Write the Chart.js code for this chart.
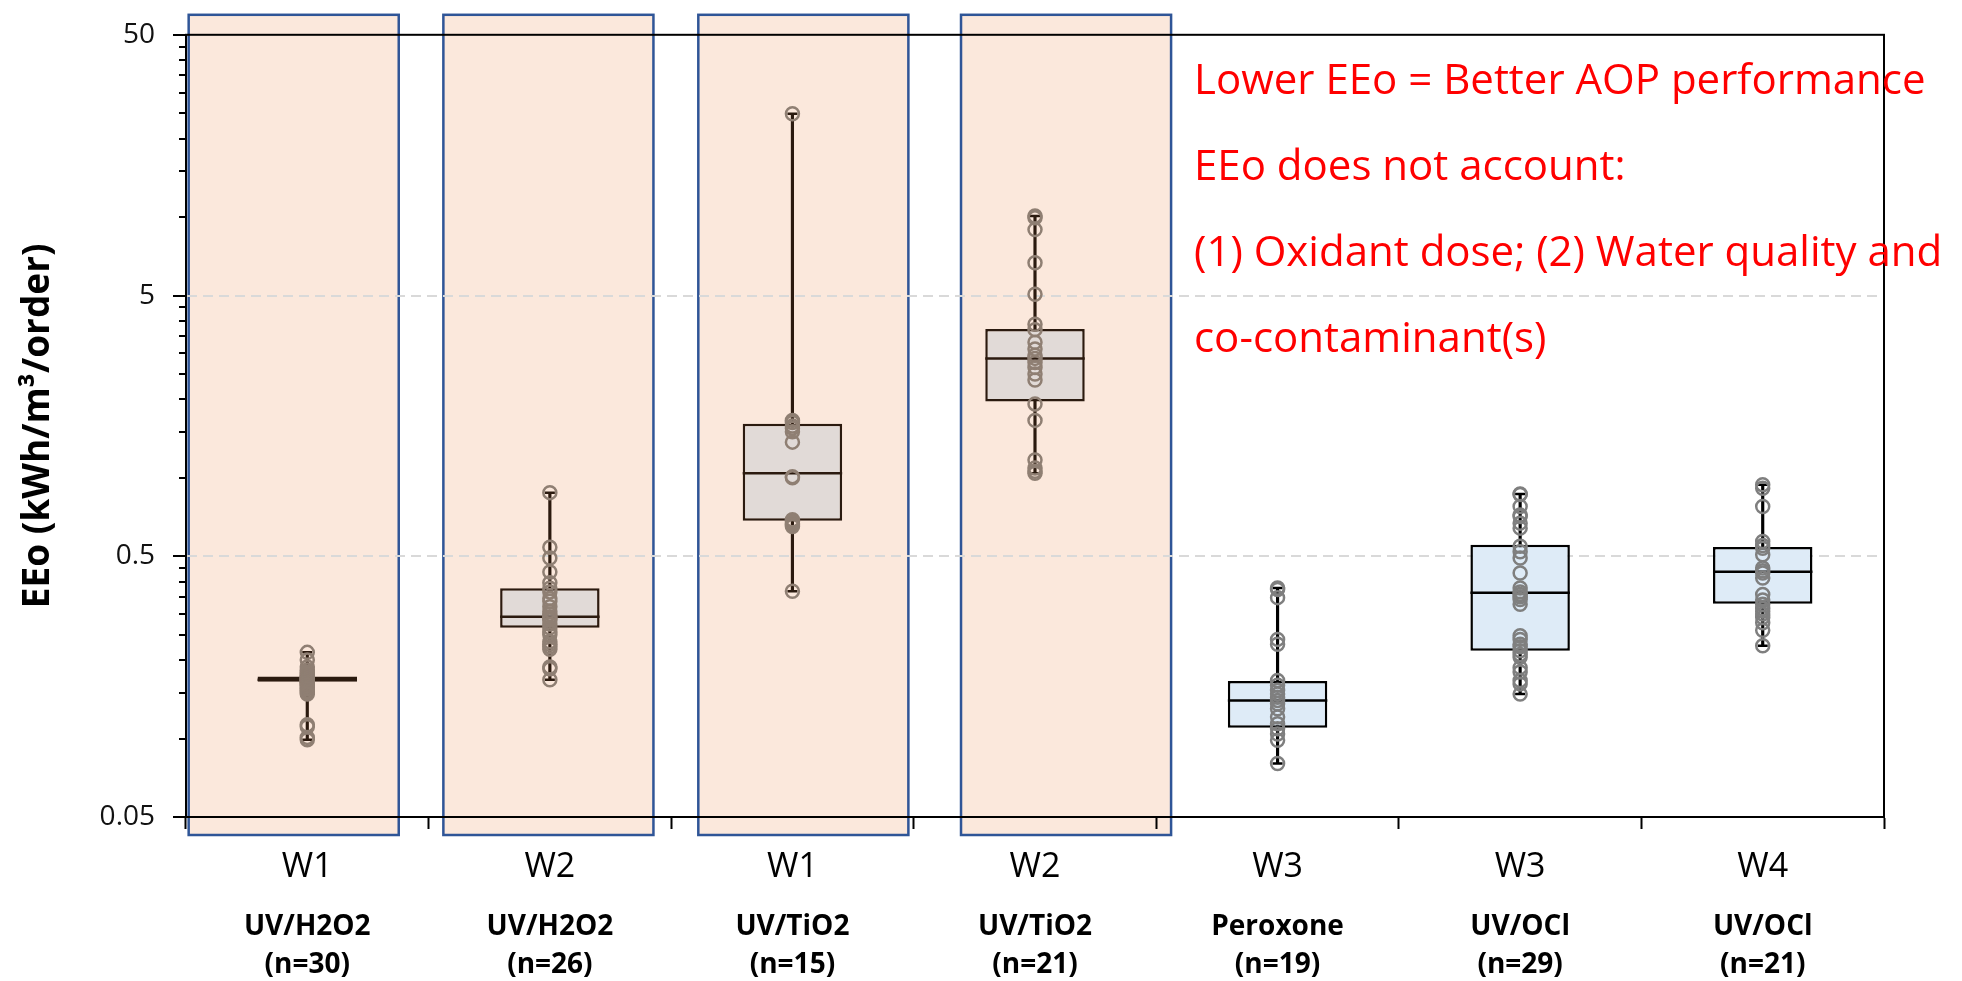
<!DOCTYPE html>
<html>
<head>
<meta charset="utf-8">
<title>EEo by AOP process</title>
<script src="https://cdn.jsdelivr.net/npm/chart.js@4.4.1/dist/chart.umd.min.js"></script>
<style>
  html, body { margin: 0; padding: 0; background: #fff; }
  #wrap { width: 1962px; height: 981px; position: relative; }
</style>
</head>
<body>
<div id="wrap"><canvas id="chart"></canvas></div>
<script>
// categories
const waterLabels = ['W1', 'W2', 'W1', 'W2', 'W3', 'W3', 'W4'];
const processLabels = ['UV/H2O2', 'UV/H2O2', 'UV/TiO2', 'UV/TiO2', 'Peroxone', 'UV/OCl', 'UV/OCl'];
const countLabels = ['(n=30)', '(n=26)', '(n=15)', '(n=21)', '(n=19)', '(n=29)', '(n=21)'];
const shaded = [true, true, true, true, false, false, false];

// box statistics (kWh/m3/order)
const boxMin = [0.099, 0.168, 0.367, 1.04, 0.0802, 0.148, 0.227];
const boxQ1 = [0.165, 0.266, 0.684, 1.96, 0.110, 0.217, 0.329];
const boxMedian = [0.168, 0.293, 1.04, 2.87, 0.140, 0.362, 0.436];
const boxQ3 = [0.173, 0.377, 1.61, 3.72, 0.166, 0.554, 0.543];
const boxMax = [0.214, 0.877, 24.9, 10.1, 0.378, 0.867, 0.94];

// individual observations
const ptsW1H2O2 = [0.214, 0.2, 0.188, 0.183, 0.179, 0.176, 0.174, 0.172, 0.171, 0.17, 0.169, 0.168, 0.168, 0.167, 0.166,
  0.165, 0.164, 0.163, 0.161, 0.16, 0.158, 0.156, 0.155, 0.152, 0.15, 0.148, 0.113, 0.111, 0.101, 0.099];
const ptsW2H2O2 = [0.877, 0.541, 0.492, 0.435, 0.396, 0.377, 0.365, 0.345, 0.336, 0.32, 0.308, 0.3, 0.293, 0.29,
  0.285, 0.275, 0.266, 0.257, 0.25, 0.235, 0.23, 0.225, 0.22, 0.188, 0.185, 0.168];
const ptsW1TiO2 = [24.9, 1.66, 1.63, 1.58, 1.55, 1.5, 1.37, 1.01, 1.0, 0.69, 0.68, 0.67, 0.66, 0.65, 0.367];
const ptsW2TiO2 = [10.1, 9.93, 8.95, 6.68, 5.06, 3.88, 3.7, 3.31, 3.12, 2.95, 2.87, 2.77, 2.65, 2.5, 2.37, 1.92,
  1.66, 1.17, 1.09, 1.06, 1.04];
const ptsW3Peroxone = [0.378, 0.373, 0.347, 0.24, 0.23, 0.167, 0.16, 0.153, 0.148, 0.144, 0.14, 0.136, 0.13,
  0.121, 0.114, 0.109, 0.104, 0.0984, 0.0802];
const ptsW3OCl = [0.867, 0.863, 0.776, 0.72, 0.711, 0.67, 0.641, 0.546, 0.52, 0.492, 0.431, 0.378, 0.365, 0.357,
  0.35, 0.341, 0.327, 0.248, 0.24, 0.23, 0.225, 0.217, 0.21, 0.205, 0.187, 0.18, 0.167, 0.162, 0.148];
const ptsW4OCl = [0.94, 0.912, 0.776, 0.57, 0.55, 0.537, 0.507, 0.451, 0.44, 0.431, 0.413, 0.357, 0.34, 0.327,
  0.315, 0.308, 0.3, 0.291, 0.278, 0.26, 0.227];
const groupPoints = [ptsW1H2O2, ptsW2H2O2, ptsW1TiO2, ptsW2TiO2, ptsW3Peroxone, ptsW3OCl, ptsW4OCl];

// y axis ticks: Excel style log axis, minor ticks at multiples of each decade start
const yDecades = [0.05, 0.5, 5];
const yMinorSteps = [1, 2, 3, 4, 5, 6, 7, 8, 9, 10];
const yLabelValues = [0.05, 0.5, 5, 50];
const yGridValues = [0.5, 5];

const notes = [
  'Lower EEo = Better AOP performance',
  'EEo does not account:',
  '(1) Oxidant dose; (2) Water quality and',
  'co-contaminant(s)',
];

const yTickValues = [...new Set(yDecades.flatMap((d) => yMinorSteps.map((k) => Number((d * k).toPrecision(4)))))];

const FONT = 'Open Sans';
const BOX_FRACTION = 0.41;
const boxFill = shaded.map((s) => (s ? '#e1dad7' : '#deebf7'));
const boxEdge = shaded.map((s) => (s ? '#2b1a0f' : '#000000'));
const dotColor = shaded.map((s) => (s ? '#8f7f73' : '#7f7f7f'));

const halfBox = (ctx) => ctx.chart.scales.x.width / waterLabels.length * BOX_FRACTION / 2;

// peach panels behind the first four groups
const shadingPlugin = {
  id: 'shading',
  beforeDraw(chart, args, opts) {
    const { ctx, chartArea, scales: { x } } = chart;
    const w = x.width / waterLabels.length;
    ctx.save();
    shaded.forEach((on, i) => {
      if (!on) return;
      const cx = x.getPixelForValue(i) + opts.shift[i] * w;
      const left = cx - (w * opts.width) / 2;
      const top = chartArea.top - opts.above;
      const h = chartArea.bottom + opts.below - top;
      ctx.fillStyle = opts.fill;
      ctx.fillRect(left, top, w * opts.width, h);
      ctx.lineWidth = 2.5;
      ctx.strokeStyle = opts.edge;
      ctx.strokeRect(left, top, w * opts.width, h);
    });
    ctx.restore();
  },
};

// black frame around the plot area
const framePlugin = {
  id: 'frame',
  beforeDatasetsDraw(chart) {
    const { ctx, chartArea: a } = chart;
    ctx.save();
    ctx.strokeStyle = '#000';
    ctx.lineWidth = 2;
    ctx.strokeRect(a.left, a.top, a.right - a.left, a.bottom - a.top);
    ctx.restore();
  },
};

// red annotation text
const notesPlugin = {
  id: 'notes',
  afterDraw(chart, args, opts) {
    const { ctx, chartArea } = chart;
    ctx.save();
    ctx.fillStyle = opts.color;
    ctx.font = `${opts.size}px "${FONT}"`;
    ctx.textBaseline = 'alphabetic';
    notes.forEach((line, i) => {
      ctx.fillText(line, chartArea.left + opts.dx, chartArea.top + opts.dy + i * opts.step);
    });
    ctx.restore();
  },
};

const datasets = [
  {
    type: 'bar',
    label: 'whisker',
    data: boxMin.map((v, i) => [v, boxMax[i]]),
    backgroundColor: boxEdge,
    borderWidth: 0,
    barThickness: 2.5,
    grouped: false,
    order: 5,
  },
  {
    type: 'bar',
    label: 'box',
    data: boxQ1.map((v, i) => [v, boxQ3[i]]),
    backgroundColor: boxFill,
    borderColor: boxEdge,
    borderWidth: 2.5,
    borderSkipped: false,
    barPercentage: BOX_FRACTION,
    categoryPercentage: 1,
    grouped: false,
    order: 4,
  },
  {
    type: 'scatter',
    label: 'median',
    xAxisID: 'xp',
    data: boxMedian.map((v, i) => ({ x: i, y: v })),
    pointStyle: 'line',
    radius: halfBox,
    borderWidth: 2.5,
    borderColor: boxEdge,
    order: 3,
  },
  {
    type: 'scatter',
    label: 'caps',
    xAxisID: 'xp',
    data: [...boxMin.map((v, i) => ({ x: i, y: v })), ...boxMax.map((v, i) => ({ x: i, y: v }))],
    pointStyle: 'line',
    radius: 5,
    borderWidth: 2.5,
    borderColor: (ctx) => boxEdge[ctx.raw ? ctx.raw.x : 0],
    order: 2,
  },
  ...groupPoints.map((pts, i) => ({
    type: 'scatter',
    label: `${waterLabels[i]} ${processLabels[i]}`,
    xAxisID: 'xp',
    data: pts.map((v) => ({ x: i, y: v })),
    pointStyle: 'circle',
    radius: 6.5,
    borderWidth: 2.5,
    borderColor: dotColor[i],
    backgroundColor: 'rgba(0,0,0,0)',
    order: 1,
  })),
];

new Chart(document.getElementById('chart'), {
  type: 'bar',
  data: { labels: waterLabels, datasets },
  plugins: [shadingPlugin, framePlugin, notesPlugin],
  options: {
    responsive: true,
    maintainAspectRatio: false,
    animation: false,
    layout: { padding: { left: 0, right: 78, top: 31, bottom: 0 } },
    font: { family: FONT },
    plugins: {
      legend: { display: false },
      tooltip: { enabled: false },
      shading: {
        fill: '#fbe8dc',
        edge: '#2f5597',
        width: 0.866,
        shift: [-0.056, -0.006, 0.045, 0.128, 0, 0, 0],
        above: 20,
        below: 18,
      },
      notes: { color: '#ff0000', size: 42, dx: 1008, dy: 59, step: 86 },
    },
    scales: {
      x: {
        type: 'category',
        position: 'bottom',
        offset: true,
        afterFit: (s) => { s.height = 70; },
        grid: {
          offset: true,
          drawOnChartArea: false,
          drawTicks: true,
          tickLength: 12,
          tickColor: '#000',
          tickWidth: 2,
        },
        border: { color: '#000', width: 2 },
        ticks: { font: { family: FONT, size: 34 }, color: '#000', padding: 18, autoSkip: false, maxRotation: 0 },
      },
      x2: {
        type: 'category',
        position: 'bottom',
        offset: true,
        labels: processLabels.map((p, i) => [p, countLabels[i]]),
        afterFit: (s) => { s.height = 94; },
        grid: { display: false, drawTicks: false },
        border: { display: false },
        ticks: {
          font: { family: FONT, size: 28, weight: 'bold', lineHeight: 1.36 },
          color: '#000',
          padding: 21,
          autoSkip: false,
          maxRotation: 0,
        },
      },
      // hidden linear twin of the category axis, used to place points on the category centres
      xp: { type: 'linear', offset: false, min: -0.5, max: waterLabels.length - 0.5, display: false },
      y: {
        type: 'logarithmic',
        position: 'left',
        min: 0.05,
        max: 50,
        afterFit: (s) => { s.width = 186; },
        afterBuildTicks: (s) => { s.ticks = yTickValues.map((v) => ({ value: v })); },
        title: {
          display: true,
          text: 'EEo (kWh/m³/order)',
          font: { family: FONT, size: 37, weight: 'bold' },
          color: '#000',
          padding: { top: 16, bottom: 0 },
        },
        ticks: {
          autoSkip: false,
          font: { family: FONT, size: 28 },
          color: '#111',
          padding: 18,
          callback: (v) => (yLabelValues.includes(v) ? String(v) : ''),
        },
        grid: {
          color: (ctx) => (ctx.tick && yGridValues.includes(ctx.tick.value) ? '#d9d9d9' : 'rgba(0,0,0,0)'),
          lineWidth: 2,
          drawTicks: true,
          tickLength: 13,
          tickColor: '#000',
          tickWidth: 2,
          // minor ticks: only the inner half of the tick mark is drawn
          tickBorderDash: (ctx) => (ctx.tick && yLabelValues.includes(ctx.tick.value) ? [] : [0, 6, 7, 100]),
        },
        border: { color: '#000', width: 2, dash: [10, 6] },
      },
    },
  },
});
</script>
</body>
</html>
